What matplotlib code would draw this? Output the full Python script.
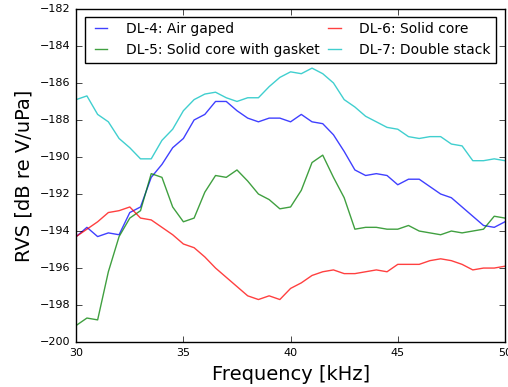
import numpy as np
import matplotlib
matplotlib.use('Agg')
import matplotlib.pyplot as plt

plt.style.use('classic')

# frequency in kHz, 0.5 kHz steps
freq = np.arange(30, 50.01, 0.5)

dl4 = [-194.3, -193.8, -194.3, -194.1, -194.2, -193.0, -192.7, -191.1, -190.4, -189.5,
       -189.0, -188.0, -187.7, -187.0, -187.0, -187.5, -187.9, -188.1, -187.9, -187.9,
       -188.1, -187.7, -188.1, -188.2, -188.8, -189.7, -190.7, -191.0, -190.9, -191.0,
       -191.5, -191.2, -191.2, -191.6, -192.0, -192.2, -192.7, -193.2, -193.7, -193.8,
       -193.5]
dl5 = [-199.1, -198.7, -198.8, -196.2, -194.3, -193.3, -192.9, -190.9, -191.1, -192.7,
       -193.5, -193.3, -191.9, -191.0, -191.1, -190.7, -191.3, -192.0, -192.3, -192.8,
       -192.7, -191.8, -190.3, -189.9, -191.1, -192.2, -193.9, -193.8, -193.8, -193.9,
       -193.9, -193.7, -194.0, -194.1, -194.2, -194.0, -194.1, -194.0, -193.9, -193.2,
       -193.3]
dl6 = [-194.3, -193.9, -193.5, -193.0, -192.9, -192.7, -193.3, -193.4, -193.8, -194.2,
       -194.7, -194.9, -195.4, -196.0, -196.5, -197.0, -197.5, -197.7, -197.5, -197.7,
       -197.1, -196.8, -196.4, -196.2, -196.1, -196.3, -196.3, -196.2, -196.1, -196.2,
       -195.8, -195.8, -195.8, -195.6, -195.5, -195.6, -195.8, -196.1, -196.0, -196.0,
       -195.9]
dl7 = [-186.9, -186.7, -187.7, -188.1, -189.0, -189.5, -190.1, -190.1, -189.1, -188.5,
       -187.5, -186.9, -186.6, -186.5, -186.8, -187.0, -186.8, -186.8, -186.2, -185.7,
       -185.4, -185.5, -185.2, -185.5, -186.0, -186.9, -187.3, -187.8, -188.1, -188.4,
       -188.5, -188.9, -189.0, -188.9, -188.9, -189.3, -189.4, -190.2, -190.2, -190.1,
       -190.2]

labels = ['DL-4: Air gaped', 'DL-5: Solid core with gasket',
          'DL-6: Solid core', 'DL-7: Double stack']

fig = plt.figure(figsize=(5.08, 3.87), dpi=100, facecolor='white')
ax = fig.add_axes([0.15, 0.116, 0.844, 0.861])

ax.plot(freq, dl4, color='b', alpha=0.75, lw=1, label=labels[0])
ax.plot(freq, dl5, color='g', alpha=0.75, lw=1, label=labels[1])
ax.plot(freq, dl6, color='r', alpha=0.75, lw=1, label=labels[2])
ax.plot(freq, dl7, color='c', alpha=0.75, lw=1, label=labels[3])

ax.set_xlim(30, 50)
ax.set_ylim(-200, -182)
ax.set_yticks(np.arange(-200, -181, 2))
ax.set_xticks(np.arange(30, 51, 5))
ax.tick_params(labelsize=8)
ax.set_xlabel('Frequency [kHz]', fontsize=14)
ax.set_ylabel('RVS [dB re V/uPa]', fontsize=14)

ax.legend(loc='upper center', ncol=2, fontsize=10, handlelength=1.5,
          handletextpad=1.0, columnspacing=0.35, borderaxespad=0.55)

fig.savefig('out.png', dpi=100, facecolor='white')
